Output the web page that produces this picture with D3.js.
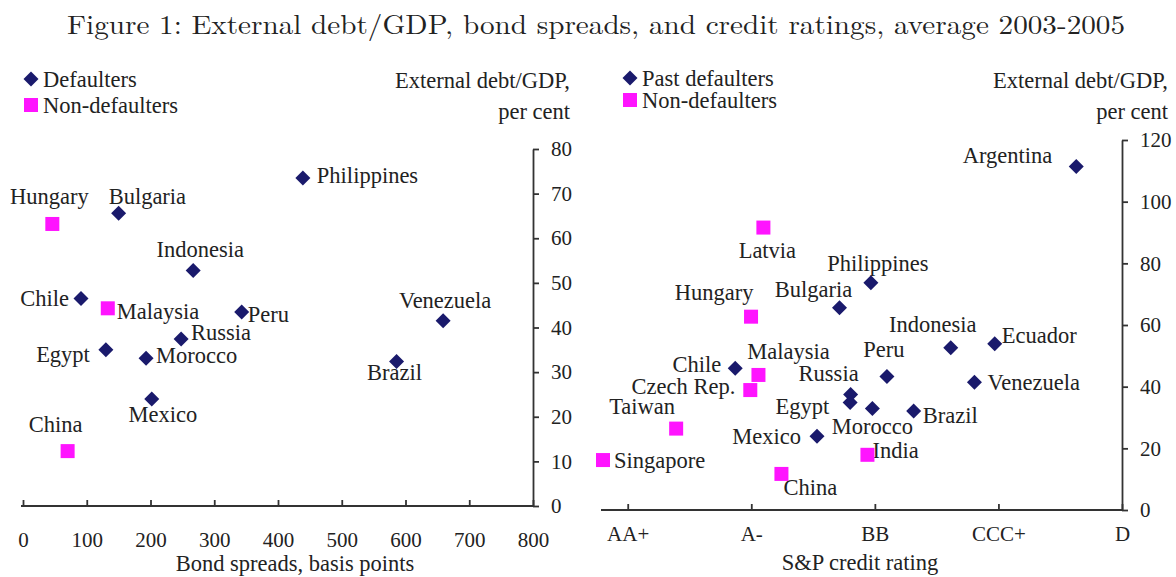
<!DOCTYPE html>
<html lang="en">
<head>
<meta charset="UTF-8">
<title>External debt/GDP, bond spreads, and credit ratings</title>
<script src="https://cdn.jsdelivr.net/npm/d3@7"></script>
<style>
    body { margin: 0; background: #fff; }
    svg text { font-family: 'Liberation Serif', 'Times New Roman', serif; fill: #222; }
    .axis path, .axis line { stroke: #333; stroke-width: 1.8; }
    .axis text { font-size: 21px; }
    .lbl { font-size: 22.5px; }
</style>
</head>
<body>
<script>
// left panel: bond spreads vs external debt/GDP
const leftCountries = ['Philippines', 'Hungary', 'Bulgaria', 'Indonesia', 'Chile', 'Malaysia', 'Peru', 'Venezuela',
    'Russia', 'Egypt', 'Morocco', 'Brazil', 'Mexico', 'China'];
const leftSpreads = [439, 46, 150, 267, 91, 133, 343, 659, 248, 130, 193, 586, 202, 70];
const leftDebt = [73.5, 63.2, 65.6, 52.8, 46.5, 44.3, 43.5, 41.5, 37.4, 35.0, 33.1, 32.4, 24.0, 12.3];
const leftGroup = ['d', 'n', 'd', 'd', 'd', 'n', 'd', 'd', 'd', 'd', 'd', 'd', 'd', 'n'];

// right panel: S&P rating (notches, AAA = 0) vs external debt/GDP
const rightCountries = ['Argentina', 'Latvia', 'Philippines', 'Bulgaria', 'Hungary', 'Indonesia', 'Ecuador', 'Chile',
    'Malaysia', 'Czech Rep.', 'Peru', 'Russia', 'Venezuela', 'Egypt', 'Morocco', 'Brazil', 'Taiwan', 'Mexico',
    'India', 'Singapore', 'China'];
const rightRating = [19.15, 6.49, 10.84, 9.57, 5.99, 14.07, 15.85, 5.35, 6.29, 5.96, 11.49, 10.02, 15.03, 10.0,
    10.9, 12.57, 2.96, 8.66, 10.7, 0.0, 7.22];
const rightDebt = [111.4, 91.6, 73.7, 65.6, 62.7, 52.6, 53.9, 46.0, 43.8, 38.9, 43.3, 37.5, 41.4, 34.9, 32.9,
    32.1, 26.4, 23.9, 17.9, 16.2, 11.7];
const rightGroup = ['d', 'n', 'd', 'd', 'n', 'd', 'd', 'd', 'n', 'n', 'd', 'd', 'd', 'd', 'd', 'd', 'n', 'd',
    'n', 'n', 'n'];

const spreadTicks = [0, 100, 200, 300, 400, 500, 600, 700, 800];
const leftDebtTicks = [0, 10, 20, 30, 40, 50, 60, 70, 80];
const rightDebtTicks = [0, 20, 40, 60, 80, 100, 120];
const ratingTicks = [1, 6, 11, 16, 21];
const ratingLabels = ['AA+', 'A-', 'BB', 'CCC+', 'D'];

// label offsets [dx, dy, anchor]
const leftLabelPos = {
    Philippines: [14, -3, 'start'], Hungary: [-3, -28, 'middle'], Bulgaria: [-10, -17, 'start'],
    Indonesia: [7, -21, 'middle'], Chile: [-12, 0, 'end'], Malaysia: [9, 3, 'start'], Peru: [6, 2, 'start'],
    Venezuela: [2, -21, 'middle'], Russia: [10, -7, 'start'], Egypt: [-16, 4, 'end'], Morocco: [10, -3, 'start'],
    Brazil: [-2, 11, 'middle'], Mexico: [11, 15, 'middle'], China: [-12, -27, 'middle']
};
const rightLabelPos = {
    Argentina: [-24, -11, 'end'], Latvia: [4, 23, 'middle'], Philippines: [7, -20, 'middle'],
    Bulgaria: [-26, -19, 'middle'], Hungary: [-37, -25, 'middle'], Indonesia: [-18, -24, 'middle'],
    Ecuador: [7, -9, 'start'], Chile: [-14, -4, 'end'], Malaysia: [30, -24, 'middle'],
    'Czech Rep.': [-15, -4, 'end'], Peru: [-3, -27, 'middle'], Russia: [8, -21, 'end'],
    Venezuela: [13, 0, 'start'], Egypt: [-21, 4, 'end'], Morocco: [0, 18, 'middle'], Brazil: [9, 4, 'start'],
    Taiwan: [-34, -22, 'middle'], Mexico: [-16, 0, 'end'], India: [5, -5, 'start'],
    Singapore: [11, 0, 'start'], China: [29, 13, 'middle']
};

const navy = '#1a1a6c', pink = '#ff14ff';
const width = 1176, height = 577;

const svg = d3.select('body').append('svg')
    .attr('width', width)
    .attr('height', height);

svg.append('text')
    .attr('x', 596).attr('y', 25).attr('dy', '0.35em')
    .attr('text-anchor', 'middle')
    .attr('textLength', 1058)
    .attr('lengthAdjust', 'spacingAndGlyphs')
    .style('font-family', "'Latin Modern Roman', 'CMU Serif', 'Liberation Serif', serif")
    .style('font-size', '27px')
    .text('Figure 1: External debt/GDP, bond spreads, and credit ratings, average 2003-2005');

function marker(g, group, x, y) {
    if (group === 'd') {
        g.append('path')
            .attr('d', `M${x},${y - 7.5}L${x + 7.5},${y}L${x},${y + 7.5}L${x - 7.5},${y}Z`)
            .attr('fill', navy);
    } else {
        g.append('rect')
            .attr('x', x - 7).attr('y', y - 7)
            .attr('width', 14).attr('height', 14)
            .attr('fill', pink);
    }
}

function panel(opts) {
    const g = svg.append('g');
    const x = opts.x, y = opts.y;

    g.append('g').attr('class', 'axis')
        .attr('transform', `translate(0,${y.range()[0]})`)
        .call(d3.axisBottom(x).tickValues(opts.xTicks).tickFormat(opts.xFormat)
            .tickSizeInner(-6).tickSizeOuter(0).tickPadding(opts.xPad))
        .call(a => a.select('.domain').attr('d', `M${opts.xStart},0H${x.range()[1]}`))
        .selectAll('text').attr('fill', '#222');

    g.append('g').attr('class', 'axis')
        .attr('transform', `translate(${x.range()[1]},0)`)
        .call(d3.axisRight(y).tickValues(opts.yTicks).tickSizeInner(6).tickSizeOuter(0).tickPadding(12))
        .selectAll('text').attr('fill', '#222');

    g.append('text').attr('x', opts.xTitle).attr('y', opts.xTitleY).attr('dy', '0.35em')
        .attr('text-anchor', 'middle').attr('class', 'lbl').text(opts.xLabel);

    g.append('text').attr('x', opts.yTitleX).attr('y', 80).attr('dy', '0.35em')
        .attr('text-anchor', 'end').attr('class', 'lbl').text('External debt/GDP,');
    g.append('text').attr('x', opts.yTitleX).attr('y', 111).attr('dy', '0.35em')
        .attr('text-anchor', 'end').attr('class', 'lbl').text('per cent');

    // legend
    const lg = g.append('g');
    marker(lg, 'd', opts.legX, opts.legY[0]);
    marker(lg, 'n', opts.legX, opts.legY[1]);
    opts.legText.forEach((t, i) => {
        lg.append('text').attr('x', opts.legX + 12).attr('y', opts.legY[i]).attr('dy', '0.35em')
            .attr('class', 'lbl').text(t);
    });

    // points + labels
    opts.names.forEach((n, i) => {
        const px = x(opts.xs[i]), py = y(opts.ys[i]);
        const p = opts.pos[n];
        g.append('text').attr('x', px + p[0]).attr('y', py + p[1]).attr('dy', '0.35em')
            .attr('text-anchor', p[2]).attr('class', 'lbl').text(n);
    });
    opts.names.forEach((n, i) => marker(g, opts.groups[i], x(opts.xs[i]), y(opts.ys[i])));
}

panel({
    x: d3.scaleLinear().domain([0, 800]).range([23, 533]),
    y: d3.scaleLinear().domain([0, 80]).range([506, 149]),
    xTicks: spreadTicks, xFormat: d => d, xPad: 26, xStart: 21,
    yTicks: leftDebtTicks,
    xLabel: 'Bond spreads, basis points', xTitle: 295, xTitleY: 563,
    yTitleX: 570,
    legX: 31, legY: [79, 105], legText: ['Defaulters', 'Non-defaulters'],
    names: leftCountries, xs: leftSpreads, ys: leftDebt, groups: leftGroup, pos: leftLabelPos
});

panel({
    x: d3.scaleLinear().domain([0, 21]).range([603, 1122]),
    y: d3.scaleLinear().domain([0, 120]).range([510, 140]),
    xTicks: ratingTicks, xFormat: (d, i) => ratingLabels[i], xPad: 16, xStart: 601,
    yTicks: rightDebtTicks,
    xLabel: 'S&P credit rating', xTitle: 860, xTitleY: 562,
    yTitleX: 1168,
    legX: 630, legY: [78, 100], legText: ['Past defaulters', 'Non-defaulters'],
    names: rightCountries, xs: rightRating, ys: rightDebt, groups: rightGroup, pos: rightLabelPos
});
</script>
</body>
</html>
